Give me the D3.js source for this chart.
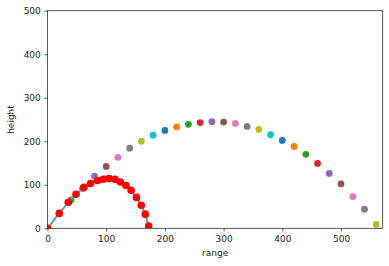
<!DOCTYPE html>
<html>
<head>
<meta charset="utf-8">
<script src="https://cdn.jsdelivr.net/npm/d3@7"></script>
<style>
  body { margin: 0; background: #fff; }
  text { font-family: "DejaVu Sans", sans-serif; }
</style>
</head>
<body>
<div id="container"></div>
<script>
// big arc: one point every 20 range units, coloured by the tab10 cycle
const arcRange = [0, 20, 40, 60, 80, 100, 120, 140, 160, 180, 200, 220, 240, 260, 280,
  300, 320, 340, 360, 380, 400, 420, 440, 460, 480, 500, 520, 540, 560];
const arcHeight = [0, 33, 65, 92, 120, 142, 163, 184, 200, 214, 225, 233, 239, 243, 245,
  244, 241, 234, 227, 215, 202, 188, 170, 149, 126, 102, 73, 44, 9];

// small arc (red points + line)
const dragRange = [0, 20, 35.5, 48.6, 62, 73.3, 85.3, 95, 104.8, 115, 124, 133.7, 142.5,
  151.5, 159.8, 166.6, 172.4];
const dragHeight = [0, 34.4, 60, 78, 94, 103, 110, 112.8, 114.5, 112.5, 106.5, 98.5, 87.5,
  71, 53, 32.5, 5];

const xTicks = [0, 100, 200, 300, 400, 500];
const yTicks = [0, 100, 200, 300, 400, 500];
const tab10 = d3.schemeCategory10;

const width = 389;
const height = 266;
const margin = { left: 47.5, right: 6.3, top: 10.7, bottom: 37.7 };

const svg = d3
  .select("#container")
  .append("svg")
  .attr("width", width)
  .attr("height", height);

const xScale = d3
  .scaleLinear()
  .domain([0, 571])
  .range([margin.left, width - margin.right]);

const yScale = d3
  .scaleLinear()
  .domain([0, 500])
  .range([height - margin.bottom, margin.top]);

svg
  .append("clipPath")
  .attr("id", "plot-clip")
  .append("rect")
  .attr("x", margin.left)
  .attr("y", margin.top)
  .attr("width", width - margin.left - margin.right)
  .attr("height", height - margin.top - margin.bottom);

const plot = svg.append("g").attr("clip-path", "url(#plot-clip)");

plot
  .selectAll("circle.arc")
  .data(arcRange)
  .enter()
  .append("circle")
  .attr("class", "arc")
  .attr("cx", (d) => xScale(d))
  .attr("cy", (d, i) => yScale(arcHeight[i]))
  .attr("r", 3.4)
  .attr("fill", (d, i) => tab10[i % 10]);

const line = d3
  .line()
  .x((d) => xScale(d))
  .y((d, i) => yScale(dragHeight[i]));

plot
  .append("path")
  .datum(dragRange)
  .attr("d", line)
  .attr("fill", "none")
  .attr("stroke", "#5f9ea0")
  .attr("stroke-width", 2);

plot
  .selectAll("circle.drag")
  .data(dragRange)
  .enter()
  .append("circle")
  .attr("class", "drag")
  .attr("cx", (d) => xScale(d))
  .attr("cy", (d, i) => yScale(dragHeight[i]))
  .attr("r", 3.8)
  .attr("fill", "red");

// axes
const xAxis = d3.axisBottom(xScale).tickValues(xTicks).tickSize(3.2).tickPadding(4.5);
const yAxis = d3.axisLeft(yScale).tickValues(yTicks).tickSize(3.2).tickPadding(3.5);

const gx = svg
  .append("g")
  .attr("transform", `translate(0, ${height - margin.bottom})`)
  .call(xAxis);
const gy = svg
  .append("g")
  .attr("transform", `translate(${margin.left}, 0)`)
  .call(yAxis);

[gx, gy].forEach((g) => {
  g.select(".domain").remove();
  g.selectAll("line").attr("stroke", "#222").attr("stroke-width", 0.75);
  g.selectAll("text")
    .attr("font-size", "9px")
    .attr("fill", "#222")
    .style("font-family", "DejaVu Sans");
});

// frame
svg
  .append("rect")
  .attr("x", margin.left)
  .attr("y", margin.top)
  .attr("width", width - margin.left - margin.right)
  .attr("height", height - margin.top - margin.bottom)
  .attr("fill", "none")
  .attr("stroke", "#222")
  .attr("stroke-width", 0.75);

svg
  .append("text")
  .attr("x", (margin.left + width - margin.right) / 2)
  .attr("y", 256)
  .attr("text-anchor", "middle")
  .attr("font-size", "9px")
  .attr("fill", "#222")
  .text("range");

svg
  .append("text")
  .attr("transform", `translate(14, ${(margin.top + height - margin.bottom) / 2}) rotate(-90)`)
  .attr("text-anchor", "middle")
  .attr("font-size", "9px")
  .attr("fill", "#222")
  .text("height");
</script>
</body>
</html>
